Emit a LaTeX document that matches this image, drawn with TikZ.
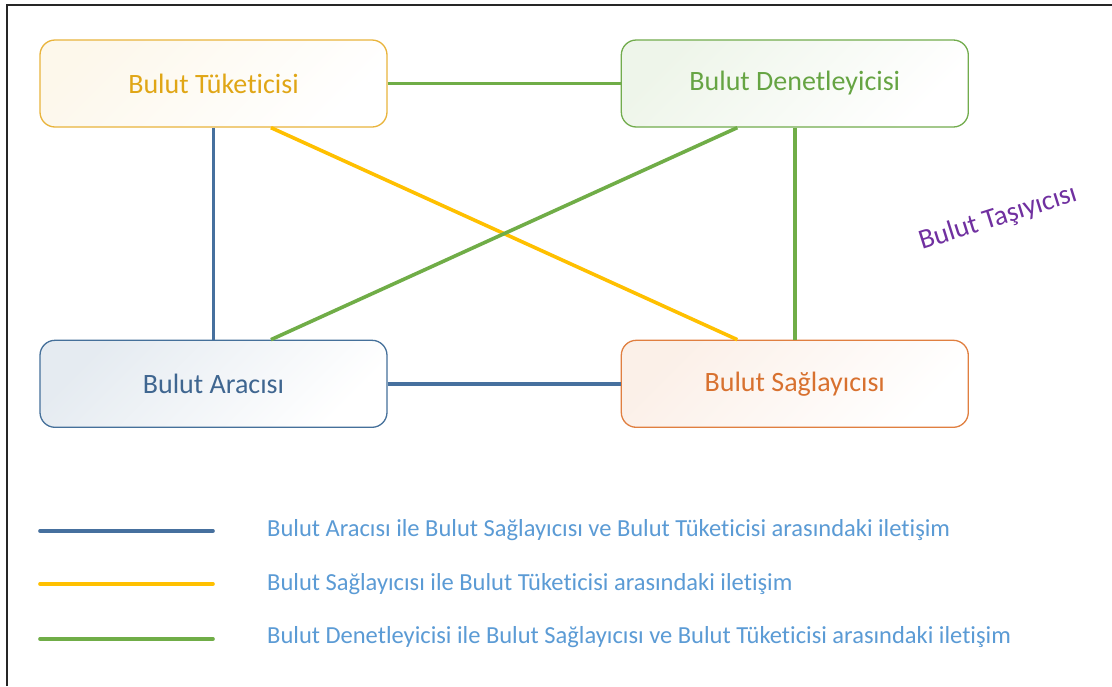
\documentclass[tikz,border=0pt]{standalone}
\usepackage{fontspec}
\setmainfont{Carlito}[Ligatures={NoCommon}]
\usetikzlibrary{positioning,calc}
\definecolor{tukline}{HTML}{E9B43C}
\definecolor{tuktext}{HTML}{E0A616}
\definecolor{denline}{HTML}{72AC4D}
\definecolor{dentext}{HTML}{66A443}
\definecolor{araline}{HTML}{45709A}
\definecolor{aratext}{HTML}{3F6690}
\definecolor{sagline}{HTML}{E07F40}
\definecolor{sagtext}{HTML}{D8712F}
\definecolor{blueconn}{HTML}{46709E}
\definecolor{yellowconn}{HTML}{FFC000}
\definecolor{greenconn}{HTML}{70AD47}
\definecolor{tasitext}{HTML}{7030A0}
\definecolor{legtext}{HTML}{5B9BD5}
\tikzset{
  actor/.style   = {draw, rounded corners=15pt, line width=1.3pt, minimum width=347pt,
  minimum height=87pt, inner sep=0pt, font=\fontsize{28}{34}\selectfont,
  shading=axis, shading angle=45},
  consumer/.style = {actor, draw=tukline, text=tuktext, top color=tukline!10, bottom color=white, shading angle=45},
  auditor/.style  = {actor, draw=denline, text=dentext, top color=denline!12, bottom color=white, shading angle=45},
  broker/.style   = {actor, draw=araline, text=aratext, top color=araline!14, bottom color=white, shading angle=45},
  provider/.style = {actor, draw=sagline, text=sagtext, top color=sagline!12, bottom color=white, shading angle=45},
  conn/.style    = {line width=3.6pt},
  legline/.style = {line width=3.6pt, line cap=round},
  legtxt/.style  = {anchor=west, inner sep=0pt, text=legtext, font=\fontsize{24.5}{29}\selectfont}
}
\begin{document}
\begin{tikzpicture}[x=1pt,y=-1pt]
\useasboundingbox (0,0) rectangle (1112,686);
\fill[white] (0,0) rectangle (1112,686);
\coordinate (framebl) at (7,686);
\coordinate (frametl) at (7,5);
\coordinate (frametr) at (1112,5);
\draw[line width=2.4pt, black!85] (framebl) -- (frametl) -- (frametr);

\node[consumer] (tuk) at (213.5,83.5) {Bulut Tüketicisi};
\node[auditor, right=233pt of tuk] (den) {Bulut Denetleyicisi};
\node[broker, below=212pt of tuk] (ara) {Bulut Aracısı};
\node[provider, right=233pt of ara] (sag) {Bulut Sağlayıcısı};

\node[rotate=17.5, text=tasitext, font=\fontsize{28}{32}\selectfont] (tasi) at (998,218) {Bulut Taşıyıcısı};

\draw[conn, greenconn] (tuk.east) -- (den.west);
\draw[conn, blueconn] (ara.east) -- (sag.west);
\draw[conn, blueconn] (tuk.south) -- (ara.north);
\draw[conn, greenconn] (den.south) -- (sag.north);
\draw[conn, yellowconn] ($(tuk.south)!0.33!(tuk.south east)$) -- ($(sag.north)!0.33!(sag.north west)$);
\draw[conn, greenconn] ($(den.south)!0.33!(den.south west)$) -- ($(ara.north)!0.33!(ara.north east)$);

% legend
\coordinate (leg1a) at (40,531);
\coordinate (leg1b) at (213,531);
\coordinate (leg2a) at (40,584);
\coordinate (leg2b) at (213,584);
\coordinate (leg3a) at (40,639);
\coordinate (leg3b) at (213,639);
\draw[legline, blueconn] (leg1a) -- (leg1b);
\draw[legline, yellowconn] (leg2a) -- (leg2b);
\draw[legline, greenconn] (leg3a) -- (leg3b);
\node[legtxt] (leg1) at (267,530) {Bulut Aracısı ile Bulut Sağlayıcısı ve Bulut Tüketicisi arasındaki iletişim};
\node[legtxt] (leg2) at (267,584) {Bulut Sağlayıcısı ile Bulut Tüketicisi arasındaki iletişim};
\node[legtxt] (leg3) at (267,637) {Bulut Denetleyicisi ile Bulut Sağlayıcısı ve Bulut Tüketicisi arasındaki iletişim};
\end{tikzpicture}
\end{document}
